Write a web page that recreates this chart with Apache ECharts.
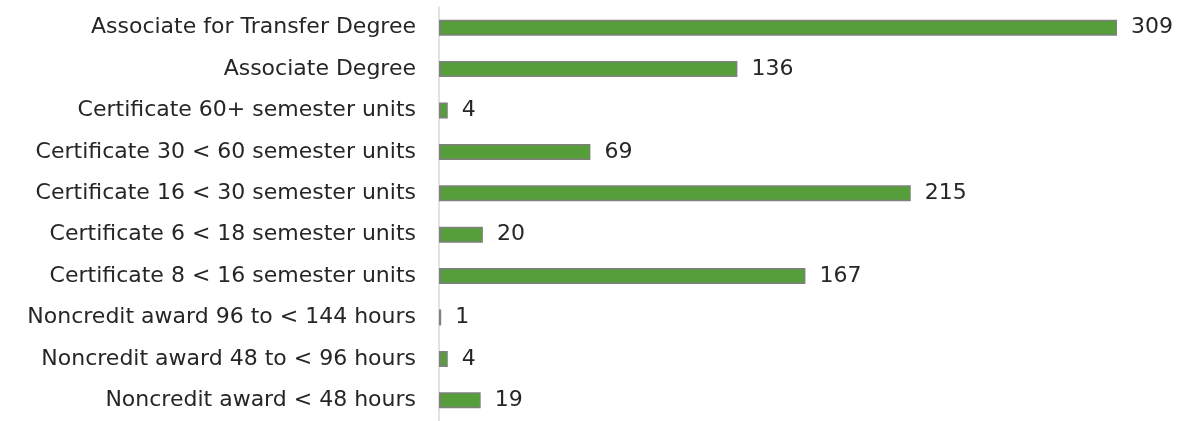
<!DOCTYPE html>
<html>
<head>
<meta charset="utf-8">
<script src="https://cdn.jsdelivr.net/npm/echarts@6/dist/echarts.min.js"></script>
<style>
  html, body { margin: 0; padding: 0; background: #fff; }
  #chart { width: 1183px; height: 421px; }
</style>
</head>
<body>
<div id="chart"></div>
<script>
// awards, top to bottom as shown
var categories = [
  'Associate for Transfer Degree',
  'Associate Degree',
  'Certificate 60+ semester units',
  'Certificate 30 < 60 semester units',
  'Certificate 16 < 30 semester units',
  'Certificate 6 < 18 semester units',
  'Certificate 8 < 16 semester units',
  'Noncredit award 96 to < 144 hours',
  'Noncredit award 48 to < 96 hours',
  'Noncredit award < 48 hours'
];
var counts = [309, 136, 4, 69, 215, 20, 167, 1, 4, 19];

var fontName = 'DejaVu Sans';
var chart = echarts.init(document.getElementById('chart'));
chart.setOption({
  animation: false,
  grid: { left: 439, right: 66, top: 7, height: 419, containLabel: false },
  xAxis: {
    type: 'value', min: 0, max: 309,
    show: false
  },
  yAxis: {
    type: 'category',
    inverse: true,
    data: categories,
    axisLine: { show: true, lineStyle: { color: '#d9d9d9', width: 1.5 } },
    axisTick: { show: false },
    axisLabel: { color: '#262626', fontSize: 22, fontFamily: fontName, margin: 23 }
  },
  series: [{
    type: 'bar',
    data: counts,
    barWidth: 16,
    itemStyle: { color: '#559e3a', borderColor: '#808080', borderWidth: 1.5 },
    label: {
      show: true, position: 'right', distance: 14,
      color: '#262626', fontSize: 22, fontFamily: fontName
    }
  }]
});
</script>
</body>
</html>
